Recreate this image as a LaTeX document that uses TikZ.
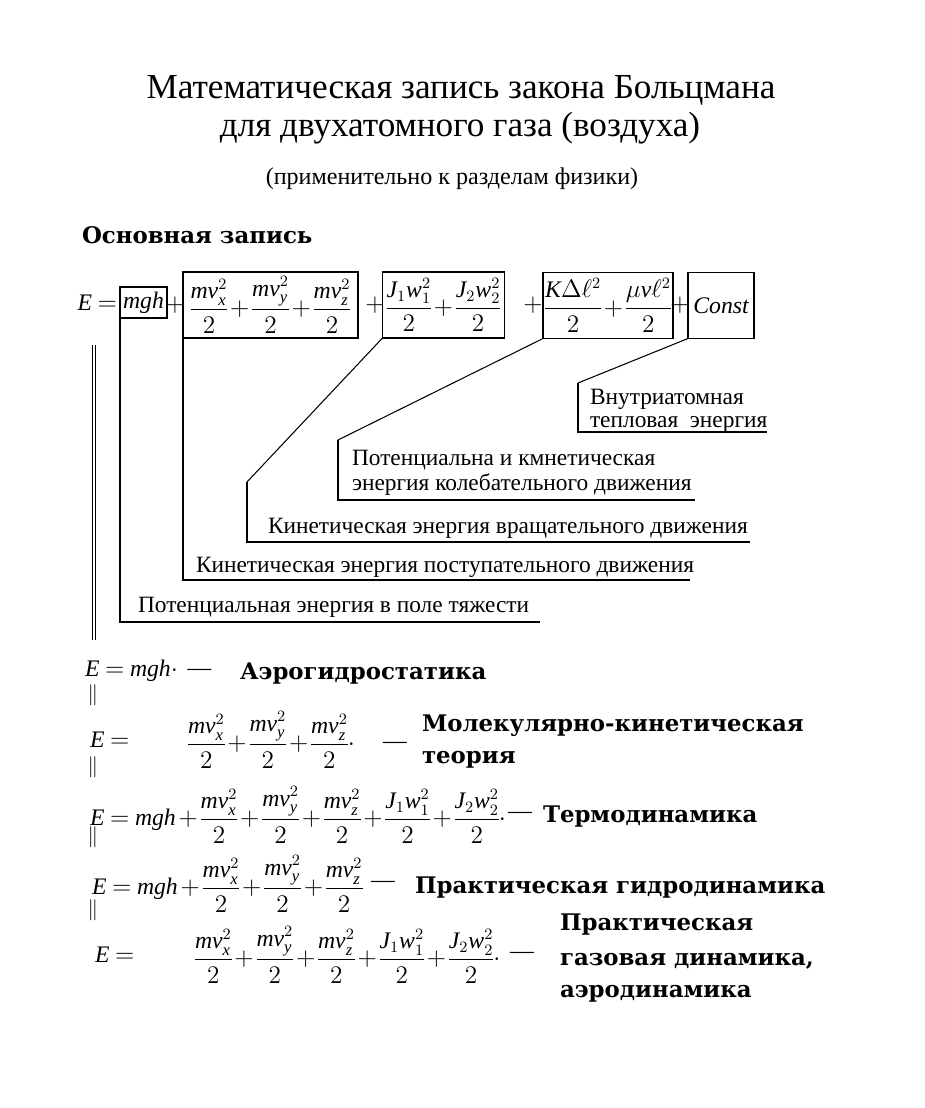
\documentclass[tikz,border=0pt]{standalone}
\usepackage{amsmath}
\usepackage{fontspec}
\setmainfont{Liberation Serif}
\newfontfamily\heavyfont{DejaVu Serif}

% tighter fractions and binary spacing, as in the scanned formulas
\nulldelimiterspace=0pt
\medmuskip=2mu plus 1mu minus 1mu
\thickmuskip=4mu plus 2mu

% repeated sums of the energy terms
\newcommand{\tkin}{\dfrac{\mathit{mv}_{\mathit{x}}^{2}}{2}+\dfrac{\mathit{mv}_{\mathit{y}}^{2}}{2}+\dfrac{\mathit{mv}_{\mathit{z}}^{2}}{2}}
\newcommand{\trot}{\dfrac{\mathit{J}_{1}\mathit{w}_{1}^{2}}{2}+\dfrac{\mathit{J}_{2}\mathit{w}_{2}^{2}}{2}}
\newcommand{\tosc}{\dfrac{\mathit{K}\Delta\ell^{2}}{2}+\dfrac{\mu\mathit{v}\ell^{2}}{2}}

\begin{document}
\begin{tikzpicture}[
  x=0.02cm,
  y=-0.02cm,
  every node/.style={inner sep=0pt, outer sep=0pt},
  frm/.style={draw, line width=1.1pt, inner sep=0pt},
  lead/.style={line width=1.1pt},
  slant/.style={line width=0.6pt},
  lbl/.style={anchor=base west, font=\fontsize{13.3}{15}\selectfont},
  sect/.style={anchor=base west, font=\heavyfont\bfseries\fontsize{13}{15}\selectfont},
  fml/.style={anchor=west, font=\fontsize{13.5}{16}\selectfont}
]
  \useasboundingbox (0,0) rectangle (924,1108);

  % ---- heading -------------------------------------------------------
  \node[anchor=base, font=\fontsize{20}{24}\selectfont] (title1) at (461,99)
    {Математическая запись закона Больцмана};
  \node[anchor=base, font=\fontsize{20}{24}\selectfont] (title2) at (460,137)
    {для двухатомного газа (воздуха)};
  \node[anchor=base, font=\fontsize{13.7}{16}\selectfont] (subtitle) at (452,185)
    {(применительно к разделам физики)};
  \node[sect] (basic) at (82,243) {Основная запись};

  % ---- full formula with boxed terms ---------------------------------
  \node[fml, anchor=east] (E0) at (117,303) {$\mathit{E}=$};
  \node[frm, minimum width=0.94cm, minimum height=0.62cm] (bmgh) at (143.5,302.5)
    {\fontsize{13.5}{16}\selectfont$\mathit{mgh}$};
  \node[fml, anchor=center] (p1) at (175,305) {$+$};
  \node[frm, minimum width=3.5cm, minimum height=1.32cm] (bkin) at (270.5,305)
    {\fontsize{13.5}{16}\selectfont$\tkin$};
  \node[fml, anchor=center] (p2) at (375,305) {$+$};
  \node[frm, minimum width=2.44cm, minimum height=1.32cm] (brot) at (443.5,305)
    {\fontsize{13.5}{16}\selectfont$\trot$};
  \node[fml, anchor=center] (p3) at (533,305) {$+$};
  \node[frm, minimum width=2.6cm, minimum height=1.32cm] (bosc) at (608,305.5)
    {\fontsize{13.5}{16}\selectfont$\tosc$};
  \node[fml, anchor=center] (p4) at (680,305) {$+$};
  \node[frm, minimum width=1.32cm, minimum height=1.32cm] (bconst) at (721,305.5)
    {\fontsize{13.5}{16}\selectfont$\mathit{Const}$};

  % ---- leaders to the explanations -----------------------------------
  \coordinate (epot) at (540,622);
  \coordinate (ekin) at (690,580);
  \coordinate (krot) at (247,482);
  \coordinate (erot) at (750,542);
  \coordinate (kosc) at (338,440);
  \coordinate (eosc) at (695,500);
  \coordinate (kint) at (578,383);
  \coordinate (eint) at (767,432);

  \draw[lead] (bmgh.south west) |- (epot);
  \draw[lead] (bkin.south west) |- (ekin);
  \draw[slant] (brot.south west) -- (krot);
  \draw[lead] (krot) |- (erot);
  \draw[slant] (bosc.south west) -- (kosc);
  \draw[lead] (kosc) |- (eosc);
  \draw[slant] (bconst.south west) -- (kint);
  \draw[lead] (kint) |- (eint);

  \node[lbl] (lint1) at (590,404) {Внутриатомная};
  \node[lbl] (lint2) at (590,427) {тепловая\ \ энергия};
  \node[lbl] (losc1) at (352,465) {Потенциальна и кмнетическая};
  \node[lbl] (losc2) at (352,490) {энергия колебательного движения};
  \node[lbl] (lrot) at (268,533) {Кинетическая энергия вращательного движения};
  \node[lbl] (lkin) at (196,572) {Кинетическая энергия поступательного движения};
  \node[lbl] (lpot) at (138,612) {Потенциальная энергия в поле тяжести};

  % ---- equivalence marks on the left ---------------------------------
  \foreach \xx in {92,95.5}
    \draw[line width=0.5pt] (\xx,345) -- (\xx,640);
  \foreach \yy [count=\i] in {695,767,837,910}
    \node[font=\fontsize{12}{14}\selectfont] (eq\i) at (93,\yy) {$\Vert$};

  % ---- special cases --------------------------------------------------
  \node[fml] (r1) at (85,671) {$\mathit{E}=\mathit{mgh}{\cdot}$};
  \node[fml, anchor=center] (d1) at (199.5,672) {—};
  \node[sect] (s1) at (240,679) {Аэрогидростатика};

  \node[fml] (r2a) at (90,740) {$\mathit{E}=$};
  \node[fml] (r2b) at (188,740) {$\tkin{\cdot}$};
  \node[fml, anchor=center] (d2) at (395,745) {—};
  \node[sect] (s2a) at (422,731) {Молекулярно-кинетическая};
  \node[sect] (s2b) at (422,763) {теория};

  \node[fml] (r3) at (90,815) {$\mathit{E}=\mathit{mgh}+\tkin+\trot{\cdot}$};
  \node[fml, anchor=center] (d3) at (520,815) {—};
  \node[sect] (s3) at (543,822) {Термодинамика};

  \node[fml] (r4) at (92,884) {$\mathit{E}=\mathit{mgh}+\tkin$};
  \node[fml, anchor=center] (d4) at (383,884) {—};
  \node[sect] (s4) at (415,893) {Практическая гидродинамика};

  \node[fml] (r5a) at (95,955) {$\mathit{E}=$};
  \node[fml] (r5b) at (195,955) {$\tkin+\trot{\cdot}$};
  \node[fml, anchor=center] (d5) at (522,955) {—};
  \node[sect] (s5a) at (560,930) {Практическая};
  \node[sect] (s5b) at (560,965) {газовая динамика,};
  \node[sect] (s5c) at (560,997) {аэродинамика};
\end{tikzpicture}
\end{document}
